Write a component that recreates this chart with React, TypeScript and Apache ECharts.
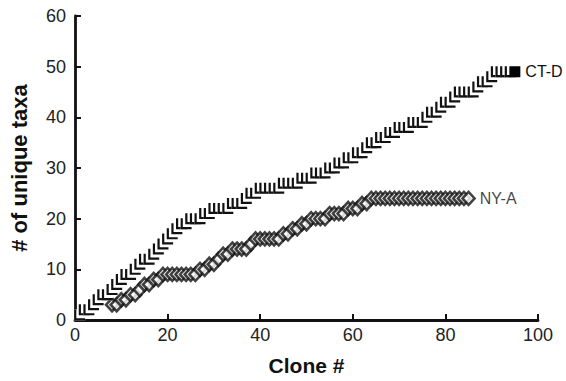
import React, { useEffect, useRef } from "react";
import * as echarts from "echarts";

// CT-D: unique taxa for clones 1..95
const ctdValues = [
  1, 2, 2, 3, 4, 5, 5, 6, 7, 8,
  9, 9, 10, 11, 12, 12, 13, 14, 15, 16,
  17, 18, 19, 19, 20, 20, 20, 21, 21, 22,
  22, 22, 22, 23, 23, 23, 24, 25, 25, 26,
  26, 26, 26, 26, 27, 27, 27, 27, 28, 28,
  28, 29, 29, 29, 30, 30, 31, 31, 32, 32,
  33, 33, 34, 35, 35, 36, 36, 37, 37, 38,
  38, 38, 39, 39, 39, 40, 41, 41, 42, 43,
  43, 44, 45, 45, 45, 45, 46, 47, 47, 48,
  49, 49, 49, 49, 49,
];
const ctdFirstClone = 1;

// NY-A: unique taxa for clones 8..85
const nyaValues = [
  3, 3, 4, 4, 5, 5, 6, 7, 7, 8,
  8, 9, 9, 9, 9, 9, 9, 9, 9, 10,
  10, 11, 11, 12, 13, 13, 14, 14, 14, 14,
  15, 16, 16, 16, 16, 16, 16, 17, 17, 18,
  18, 19, 19, 20, 20, 20, 20, 21, 21, 21,
  21, 22, 22, 22, 23, 23, 24, 24, 24, 24,
  24, 24, 24, 24, 24, 24, 24, 24, 24, 24,
  24, 24, 24, 24, 24, 24, 24, 24,
];
const nyaFirstClone = 8;

const xTicks = [0, 20, 40, 60, 80, 100];
const yTicks = [0, 10, 20, 30, 40, 50, 60];
const seriesNames = ["CT-D", "NY-A"];

const FONT = "Liberation Sans, Arial, Helvetica, sans-serif";

export default function App() {
  const ref = useRef<HTMLDivElement>(null);
  useEffect(() => {
    if (!ref.current) return;
    const chart = echarts.init(ref.current, null, { renderer: "svg" });

    const ctdData = ctdValues.map((v, i) => [ctdFirstClone + i, v]);
    const lastC = ctdData.length - 1;

    const nyaData: any[] = nyaValues.map((v, i) => [nyaFirstClone + i, v]);
    const lastN = nyaData.length - 1;
    nyaData[lastN] = {
      value: nyaData[lastN],
      label: {
        show: true,
        position: "right",
        distance: 4,
        formatter: seriesNames[1],
        color: "#111",
        fontSize: 16,
        fontFamily: FONT,
      },
    };

    const axisCommon = {
      type: "value",
      nameLocation: "middle",
      nameTextStyle: { fontSize: 21, fontWeight: "bold", color: "#111", fontFamily: FONT },
      axisLine: { show: true, onZero: false, lineStyle: { color: "#111", width: 2.8 } },
      axisTick: { show: true, inside: true, length: 6, lineStyle: { color: "#111", width: 2 } },
      splitLine: { show: false },
    };

    const S = 11;
    const LW = 2.2;

    chart.setOption({
      animation: false,
      backgroundColor: "#fff",
      grid: { left: 75, right: 28, top: 16, bottom: 59, containLabel: false },
      xAxis: {
        ...axisCommon,
        min: xTicks[0],
        max: xTicks[xTicks.length - 1],
        interval: 20,
        name: "Clone #",
        nameGap: 35,
        axisLabel: { fontSize: 18, color: "#222", margin: 6, fontFamily: FONT },
      },
      yAxis: {
        ...axisCommon,
        min: yTicks[0],
        max: yTicks[yTicks.length - 1],
        interval: 10,
        name: "# of unique taxa",
        nameGap: 45,
        nameTextStyle: { fontSize: 22, fontWeight: "bold", color: "#111", fontFamily: FONT },
        axisLabel: { fontSize: 18, color: "#222", margin: 9, fontFamily: FONT },
      },
      series: [
        {
          name: seriesNames[1],
          type: "scatter",
          symbol: "diamond",
          symbolSize: [12, 13],
          itemStyle: { color: "#fff", borderColor: "#111", borderWidth: 2.6 },
          data: nyaData,
          z: 2,
        },
        {
          name: seriesNames[0],
          type: "custom",
          data: ctdData,
          z: 3,
          renderItem: (params: any, api: any) => {
            const p = api.coord([api.value(0), api.value(1)]);
            const x0 = p[0] - S / 2;
            const y0 = p[1] - S / 2;
            const isLast = params.dataIndex === lastC;
            if (isLast) {
              return {
                type: "group",
                children: [
                  {
                    type: "rect",
                    shape: { x: x0, y: y0, width: S, height: S },
                    style: { fill: "#000" },
                  },
                  {
                    type: "text",
                    x: x0 + S + 5,
                    y: p[1],
                    style: {
                      text: seriesNames[0],
                      fill: "#111",
                      fontSize: 16,
                      fontFamily: FONT,
                      verticalAlign: "middle",
                      align: "left",
                    },
                  },
                ],
              };
            }
            return {
              type: "group",
              children: [
                {
                  type: "rect",
                  shape: { x: x0, y: y0, width: S, height: S },
                  style: { fill: "#fff" },
                },
                {
                  type: "polyline",
                  shape: {
                    points: [
                      [x0 + LW / 2, y0],
                      [x0 + LW / 2, y0 + S - LW / 2],
                      [x0 + S, y0 + S - LW / 2],
                    ],
                  },
                  style: { stroke: "#111", lineWidth: LW, fill: null },
                },
              ],
            };
          },
        },
      ],
    });
    return () => chart.dispose();
  }, []);
  return (
    <div
      ref={ref}
      style={{ position: "fixed", left: 0, top: 0, width: 566, height: 381, background: "#fff" }}
    />
  );
}
